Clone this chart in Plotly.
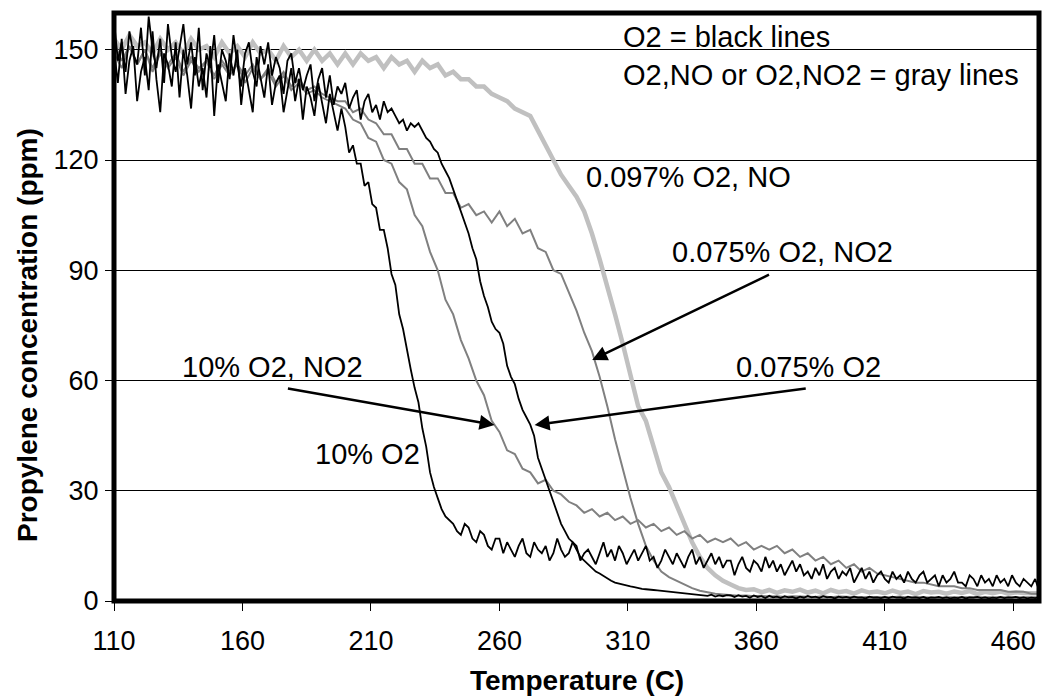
import plotly.graph_objects as go

# Temperature (C), coarse grid for the gray traces
temperature = [
    110, 113, 116, 119, 122, 125, 128, 131, 134, 137,
    140, 143, 146, 149, 152, 155, 158, 161, 164, 167,
    170, 173, 176, 179, 182, 185, 188, 191, 194, 197,
    200, 203, 206, 209, 212, 215, 218, 221, 224, 227,
    230, 233, 236, 239, 242, 245, 248, 251, 254, 257,
    260, 263, 266, 269, 272, 275, 278, 281, 284, 287,
    290, 293, 296, 299, 302, 305, 308, 311, 314, 317,
    320, 323, 326, 329, 332, 335, 338, 341, 344, 347,
    350, 353, 356, 359, 362, 365, 368, 371, 374, 377,
    380, 383, 386, 389, 392, 395, 398, 401, 404, 407,
    410, 413, 416, 419, 422, 425, 428, 431, 434, 437,
    440, 443, 446, 449, 452, 455, 458, 461, 464, 467,
    470,
]

# Temperature (C), fine grid for the (noisier) black traces
temperature_fine = [
    110, 111.5, 113, 114.5, 116, 117.5, 119, 120.5, 122, 123.5, 125, 126.5, 128, 129.5, 131, 132.5, 134, 135.5, 137, 138.5,
    140, 141.5, 143, 144.5, 146, 147.5, 149, 150.5, 152, 153.5, 155, 156.5, 158, 159.5, 161, 162.5, 164, 165.5, 167, 168.5,
    170, 171.5, 173, 174.5, 176, 177.5, 179, 180.5, 182, 183.5, 185, 186.5, 188, 189.5, 191, 192.5, 194, 195.5, 197, 198.5,
    200, 201.5, 203, 204.5, 206, 207.5, 209, 210.5, 212, 213.5, 215, 216.5, 218, 219.5, 221, 222.5, 224, 225.5, 227, 228.5,
    230, 231.5, 233, 234.5, 236, 237.5, 239, 240.5, 242, 243.5, 245, 246.5, 248, 249.5, 251, 252.5, 254, 255.5, 257, 258.5,
    260, 261.5, 263, 264.5, 266, 267.5, 269, 270.5, 272, 273.5, 275, 276.5, 278, 279.5, 281, 282.5, 284, 285.5, 287, 288.5,
    290, 291.5, 293, 294.5, 296, 297.5, 299, 300.5, 302, 303.5, 305, 306.5, 308, 309.5, 311, 312.5, 314, 315.5, 317, 318.5,
    320, 321.5, 323, 324.5, 326, 327.5, 329, 330.5, 332, 333.5, 335, 336.5, 338, 339.5, 341, 342.5, 344, 345.5, 347, 348.5,
    350, 351.5, 353, 354.5, 356, 357.5, 359, 360.5, 362, 363.5, 365, 366.5, 368, 369.5, 371, 372.5, 374, 375.5, 377, 378.5,
    380, 381.5, 383, 384.5, 386, 387.5, 389, 390.5, 392, 393.5, 395, 396.5, 398, 399.5, 401, 402.5, 404, 405.5, 407, 408.5,
    410, 411.5, 413, 414.5, 416, 417.5, 419, 420.5, 422, 423.5, 425, 426.5, 428, 429.5, 431, 432.5, 434, 435.5, 437, 438.5,
    440, 441.5, 443, 444.5, 446, 447.5, 449, 450.5, 452, 453.5, 455, 456.5, 458, 459.5, 461, 462.5, 464, 465.5, 467, 468.5,
    470,
]

# 10% O2 (black), on temperature_fine
o2_10 = [
    150, 141, 153, 138, 147, 151, 136, 144, 148, 139, 155, 142, 133, 149, 146, 140, 152, 137, 150, 143,
    134, 148, 140, 145, 137, 151, 132, 146, 141, 136, 149, 143, 150, 135, 145, 139, 133, 148, 142, 137,
    146, 135, 141, 143, 133, 139, 145, 136, 142, 131, 140, 137, 132, 141, 135, 130, 138, 133, 128, 134,
    129, 122, 124, 119, 119, 113, 114, 108, 107, 101, 101, 96, 89, 86, 78, 74, 68, 63, 58, 54,
    47, 42, 35, 31, 28, 25, 23, 22, 21, 19, 18, 21, 20, 17, 16, 19, 18, 15, 14, 17,
    17, 13, 16, 14, 12, 15, 17, 13, 12, 16, 14, 13, 15, 11, 13, 17, 14, 12, 13, 16,
    15, 11, 13, 14, 12, 10, 13, 16, 12, 14, 11, 15, 13, 10, 12, 14, 11, 13, 15, 11,
    12, 9, 11, 14, 12, 10, 13, 11, 9, 12, 14, 10, 12, 9, 11, 13, 10, 12, 9, 11,
    11, 7, 10, 12, 9, 8, 11, 10, 8, 12, 9, 11, 8, 10, 7, 9, 11, 8, 10, 7,
    8, 6, 9, 7, 10, 6, 8, 9, 6, 8, 7, 9, 5, 7, 9, 6, 8, 5, 7, 8,
    6, 5, 8, 6, 7, 5, 8, 6, 5, 7, 8, 5, 6, 7, 4, 7, 5, 6, 8, 5,
    5, 4, 7, 6, 4, 7, 5, 6, 4, 7, 5, 6, 4, 7, 5, 4, 6, 5, 4, 6,
    3,
]

# 0.075% O2 (black), on temperature_fine
o2_0075 = [
    158, 147, 152, 144, 155, 149, 146, 156, 143, 159, 150, 145, 153, 141, 157, 148, 144, 151, 157, 146,
    152, 143, 156, 139, 149, 145, 154, 141, 150, 147, 142, 154, 146, 140, 149, 152, 144, 140, 151, 146,
    152, 143, 148, 145, 138, 147, 149, 141, 145, 139, 143, 146, 136, 142, 145, 137, 143, 135, 140, 138,
    141, 134, 137, 139, 131, 136, 138, 133, 135, 131, 136, 133, 134, 132, 130, 131, 128, 130, 129, 130,
    128, 126, 125, 123, 122, 119, 117, 115, 112, 109, 106, 103, 100, 96, 93, 87, 83, 80, 76, 74,
    73, 70, 64, 61, 59, 55, 52, 50, 48, 45, 39, 36, 33, 30, 27, 24, 21, 19, 17, 16,
    14, 12, 11, 10, 9, 8, 7.5, 6.8, 6, 5.5, 5, 4.8, 4.5, 4.2, 4, 3.8, 3.5, 3.3, 3.2, 3.0,
    3, 2.9, 2.8, 2.6, 2.5, 2.3, 2.2, 2.1, 2, 1.9, 1.8, 1.7, 1.6, 1.5, 1.4, 1.7, 1.2, 1.5, 1.3, 1.6,
    1.5, 1.1, 1.6, 1.2, 1.4, 0.9, 1.5, 1.1, 1.3, 0.8, 1.4, 1.0, 1.2, 0.8, 1.3, 1.0, 1.1, 0.7, 1.2, 0.9,
    1.4, 1.0, 1.2, 0.8, 1.3, 1.0, 1.1, 0.7, 1.2, 0.9, 1.1, 0.8, 1.2, 0.9, 1.0, 0.7, 1.2, 0.9, 1.0, 0.8,
    1.1, 0.8, 1.2, 0.9, 1.0, 0.7, 1.2, 0.9, 1.0, 0.8, 1.1, 0.7, 1.0, 0.9, 1.1, 0.8, 1.0, 0.7, 0.9, 0.8,
    1.1, 0.7, 1.0, 0.9, 1.1, 0.8, 1.0, 0.7, 0.9, 0.8, 1.1, 0.8, 1.0, 0.9, 1.1, 0.8, 1.0, 0.7, 0.9, 0.8,
    1.0,
]

# 10% O2, NO2 (gray), on temperature
no2_10 = [
    149, 145, 151, 146, 150, 144, 149, 145, 148, 143,
    147, 144, 147, 142, 146, 143, 146, 141, 145, 142,
    144, 140, 143, 139, 141, 138, 139, 137, 136, 135,
    134, 131, 130, 126, 125, 120, 119, 114, 112, 105,
    102, 95, 90, 82, 78, 71, 66, 60, 56, 49,
    46, 41, 40, 36, 35, 32, 33, 30, 29, 27,
    26, 24, 25, 23, 24, 22, 23, 21, 22, 20,
    21, 19, 20, 18, 19, 17, 18, 16, 17, 16,
    17, 15, 16, 14, 15, 14, 15, 13, 14, 12,
    13, 11, 12, 10, 11, 9, 10, 8, 9, 7.5,
    7, 6.5, 6, 5.5, 5, 5, 4.5, 4, 4, 4,
    3.5, 3.5, 3, 3, 3, 3, 2.5, 2.5, 2.5, 2,
    2,
]

# 0.075% O2, NO2 (gray), on temperature
no2_0075 = [
    152, 147, 151, 146, 150, 145, 150, 146, 149, 144,
    148, 145, 147, 143, 147, 144, 146, 143, 146, 142,
    145, 141, 144, 140, 142, 139, 140, 138, 137, 136,
    136, 133, 134, 131, 130, 127, 127, 123, 123, 119,
    119, 115, 115, 111, 111, 107, 108, 105, 106, 103,
    106, 102, 104, 100, 101, 96, 95, 90, 89, 84,
    79, 73, 68, 61, 53, 44, 36, 28, 21, 15,
    11, 8, 6.5, 5.5, 4.5, 3.5, 2.8, 2.3, 2, 1.8,
    1.6, 1.4, 1.5, 1.3, 1.4, 1.2, 1.3, 1.1, 1.3, 1.2,
    1.2, 1.1, 1.3, 1.0, 1.2, 1.1, 1.2, 1.0, 1.1, 1.0,
    1.1, 1.0, 1.2, 0.9, 1.1, 1.0, 1.1, 0.9, 1.0, 1.0,
    1.1, 0.9, 1.0, 1.0, 1.1, 0.9, 1.0, 0.9, 1.0, 0.9,
    1.0,
]

# 0.097% O2, NO (light gray), on temperature
no_0097 = [
    153, 150, 154, 151, 152, 149, 153, 150, 152, 149,
    153, 150, 151, 148, 152, 149, 151, 148, 152, 149,
    150, 147, 151, 148, 150, 147, 150, 147, 149, 146,
    149, 146, 149, 147, 148, 145, 148, 146, 147, 144,
    147, 145, 146, 143, 144, 142, 142, 140, 140, 138,
    137, 136, 134, 133, 132, 128, 124, 120, 116, 113,
    110, 106, 100, 93, 86, 78, 70, 61, 53, 49,
    42, 35, 31, 26, 21, 16, 12, 9, 7, 5.5,
    4.5, 3.5, 3, 3.2, 2.4, 3, 2.2, 2.9, 2.5, 3.1,
    2.3, 2.8, 2.1, 3, 2.4, 2.7, 2, 2.9, 2.3, 2.6,
    2.1, 2.8, 2.2, 2.6, 1.9, 2.7, 2.3, 2.5, 2, 2.6,
    2.2, 2.7, 1.9, 2.5, 2.1, 2.6, 2, 2.4, 2.2, 2.3,
    2.1,
]

x_ticks = [110, 160, 210, 260, 310, 360, 410, 460]
y_ticks = [0, 30, 60, 90, 120, 150]

FONT = "Liberation Sans, Arial, sans-serif"

fig = go.Figure()
fig.add_trace(go.Scatter(x=temperature, y=no_0097, mode="lines", name="0.097% O2, NO",
                         line=dict(color="#c0c0c0", width=4.5)))
fig.add_trace(go.Scatter(x=temperature, y=no2_0075, mode="lines", name="0.075% O2, NO2",
                         line=dict(color="#808080", width=2)))
fig.add_trace(go.Scatter(x=temperature, y=no2_10, mode="lines", name="10% O2, NO2",
                         line=dict(color="#808080", width=2)))
fig.add_trace(go.Scatter(x=temperature_fine, y=o2_0075, mode="lines", name="0.075% O2",
                         line=dict(color="#000000", width=1.8)))
fig.add_trace(go.Scatter(x=temperature_fine, y=o2_10, mode="lines", name="10% O2",
                         line=dict(color="#000000", width=1.8)))

text_labels = [
    ("O2 = black lines", 307.2, 153.5),
    ("O2,NO or O2,NO2 = gray lines", 307.2, 143.2),
    ("0.097% O2, NO", 292.9, 115.3),
    ("0.075% O2, NO2", 326.2, 95.1),
    ("0.075% O2", 351.4, 63.7),
    ("10% O2, NO2", 135.7, 63.7),
    ("10% O2", 187.5, 40.1),
]
annotations = []
for txt, tx, ty in text_labels:
    annotations.append(dict(x=tx, y=ty, xref="x", yref="y", text=txt, showarrow=False,
                            xanchor="left", yanchor="middle",
                            font=dict(family=FONT, size=29, color="black")))

arrows = [
    (296.1, 65.6, 365.5, 89.0),
    (273.7, 47.9, 379.8, 57.9),
    (258.1, 47.9, 177.1, 57.9),
]
for hx, hy, tx, ty in arrows:
    annotations.append(dict(x=hx, y=hy, ax=tx, ay=ty, xref="x", yref="y",
                            axref="x", ayref="y", text="", showarrow=True,
                            arrowhead=2, arrowsize=1.2, arrowwidth=2.5,
                            arrowcolor="black", standoff=0, startstandoff=0))

W, H = 1043, 700
ml, mr, mt, mb = 114, 4, 13, 99
pw, ph = W - ml - mr, H - mt - mb

annotations.append(dict(x=0.5, y=-(680 - (H - mb)) / ph, xref="paper", yref="paper",
                        xanchor="center", yanchor="middle",
                        text="<b>Temperature (C)</b>", showarrow=False,
                        font=dict(family=FONT, size=28, color="black")))
annotations.append(dict(x=(27 - ml) / pw, y=(H - mb - 335) / ph, xref="paper", yref="paper",
                        xanchor="center", yanchor="middle",
                        text="<b>Propylene concentration (ppm)</b>",
                        showarrow=False, textangle=-90,
                        font=dict(family=FONT, size=28, color="black")))

fig.update_layout(
    width=W, height=H,
    margin=dict(l=ml, r=mr, t=mt, b=mb, pad=0),
    paper_bgcolor="white", plot_bgcolor="white",
    showlegend=False,
    font=dict(family=FONT, size=27, color="black"),
    annotations=annotations,
    shapes=[dict(type="rect", xref="paper", yref="paper", x0=0, x1=1, y0=0, y1=1,
                 line=dict(color="black", width=5), fillcolor="rgba(0,0,0,0)", layer="above")],
    xaxis=dict(range=[110, 470], tickvals=x_ticks, ticktext=[str(v) for v in x_ticks],
               showgrid=False, zeroline=False, showline=False,
               ticks="outside", ticklen=9,
               tickwidth=1, tickcolor="black", ticklabelstandoff=7,
               tickfont=dict(family=FONT, size=27, color="black")),
    yaxis=dict(range=[0, 160], tickvals=y_ticks, ticktext=[str(v) for v in y_ticks],
               showgrid=True, gridcolor="black", gridwidth=1, zeroline=False,
               showline=False,
               ticks="outside", ticklen=8, tickwidth=1, tickcolor="black",
               ticklabelstandoff=1,
               tickfont=dict(family=FONT, size=27, color="black")),
)

fig.write_html("out.html", config={"displayModeBar": False},
               post_script="document.body.style.margin='0px';document.body.style.padding='0px';document.body.style.overflow='hidden';")
